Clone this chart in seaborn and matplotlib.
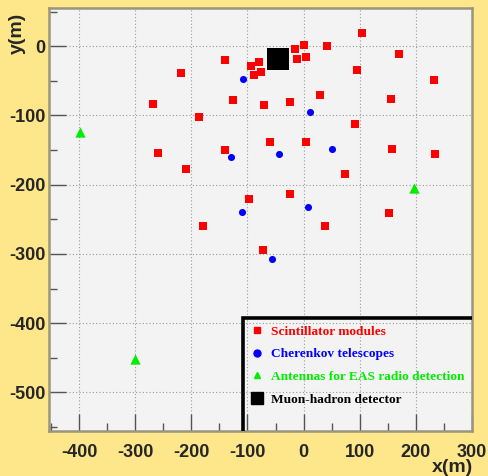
import matplotlib
matplotlib.use("Agg")
import matplotlib.pyplot as plt
import seaborn as sns
import pandas as pd
from matplotlib.lines import Line2D
from matplotlib.patches import Rectangle
from matplotlib.ticker import MultipleLocator

# ---- data (metres) ----
scint_x = [-140, -219, -125, -268, -187, -259, -140, -210, -98, -180,
           -15, 1, -11, 4, 42, 104, 170, 96, 232, -80, -94, -75, -88,
           30, 156, -71, -25, 91, -59, 4, 157, 235, 74, -25, 153, 38, -72]
scint_y = [-20, -39, -77, -84, -102, -154, -150, -177, -220, -260,
           -4, 1, -18, -15, 0, 19, -11, -34, -49, -23, -29, -37, -42,
           -71, -76, -85, -81, -113, -138, -139, -149, -156, -184, -214, -241, -260, -295]
cher_x = [-108, -129, -109, 12, -44, 50, 8, -57]
cher_y = [-48, -160, -240, -95, -155, -149, -232, -308]
ant_x = [-398, -300, 196]
ant_y = [-124, -452, -205]
muon_x = [-45]
muon_y = [-18]

labels = ["Scintillator modules", "Cherenkov telescopes",
          "Antennas for EAS radio detection", "Muon-hadron detector"]
colors = ["#ff0000", "#0000ff", "#00ee00", "#000000"]

sns.set_theme(style="white")
plt.rcParams["font.family"] = ["Liberation Sans", "DejaVu Sans"]
plt.rcParams["axes.unicode_minus"] = False

fig = plt.figure(figsize=(4.89, 4.76), dpi=100, facecolor="#fee78a")
ax = fig.add_axes([0.101, 0.094, 0.864, 0.889])
ax.set_facecolor("#f3f3f3")

groups = [
    (scint_x, scint_y, "s", 38, colors[0]),
    (cher_x, cher_y, "o", 26, colors[1]),
    (ant_x, ant_y, "^", 55, colors[2]),
    (muon_x, muon_y, "s", 250, colors[3]),
]
for gx, gy, mk, sz, col in groups:
    df = pd.DataFrame({"x": gx, "y": gy})
    sns.scatterplot(data=df, x="x", y="y", marker=mk, s=sz, color=col,
                    linewidth=0, ax=ax, legend=False, zorder=3)

ax.set_xlim(-453, 300)
ax.set_ylim(-556, 55)

ax.xaxis.set_major_locator(MultipleLocator(100))
ax.xaxis.set_minor_locator(MultipleLocator(50))
ax.yaxis.set_major_locator(MultipleLocator(100))
ax.yaxis.set_minor_locator(MultipleLocator(50))
ax.tick_params(axis="both", which="major", direction="in", length=12, width=1,
               color="#555555", labelsize=13)
ax.tick_params(axis="both", which="minor", direction="in", length=6, width=1,
               color="#555555")
ax.tick_params(axis="x", which="both", bottom=True, top=False, pad=9)
ax.tick_params(axis="y", which="both", left=True, right=False, pad=3)
for lab in ax.get_xticklabels() + ax.get_yticklabels():
    lab.set_fontweight("bold")

ax.grid(True, which="major", linestyle=(0, (1, 2)), color="#9a9a9a", linewidth=0.8)
ax.set_axisbelow(True)

for side, sp in ax.spines.items():
    sp.set_visible(True)
    sp.set_color("#9b957e")
    sp.set_linewidth(1.8)

ax.set_xlabel("")
ax.set_ylabel("")
fig.text(0.925, 0.0, "x(m)", fontsize=14, fontweight="bold", ha="center", va="bottom")
fig.text(0.035, 0.93, "y(m)", fontsize=14, fontweight="bold", rotation=90,
         ha="center", va="center")

# legend box (only top and left edges visible inside the axes)
box = Rectangle((-108, -700), 600, 307, fill=False, edgecolor="black",
                linewidth=2.6, zorder=4, clip_on=True)
ax.add_patch(box)

handles = [
    Line2D([], [], marker="s", color=colors[0], linestyle="none", markersize=4.6),
    Line2D([], [], marker="o", color=colors[1], linestyle="none", markersize=5.0),
    Line2D([], [], marker="^", color=colors[2], linestyle="none", markersize=5.0),
    Line2D([], [], marker="s", color=colors[3], linestyle="none", markersize=9.0),
]
leg = ax.legend(handles, labels, loc="upper left", bbox_to_anchor=(-94, -403),
                bbox_transform=ax.transData, frameon=False, borderpad=0,
                borderaxespad=0, handlelength=1.0, handletextpad=0.55,
                labelspacing=0.78,
                prop={"family": "Liberation Serif", "weight": "bold", "size": 9.6})
for txt, col in zip(leg.get_texts(), colors):
    txt.set_color(col)

fig.savefig("out.png", dpi=100, facecolor=fig.get_facecolor())
